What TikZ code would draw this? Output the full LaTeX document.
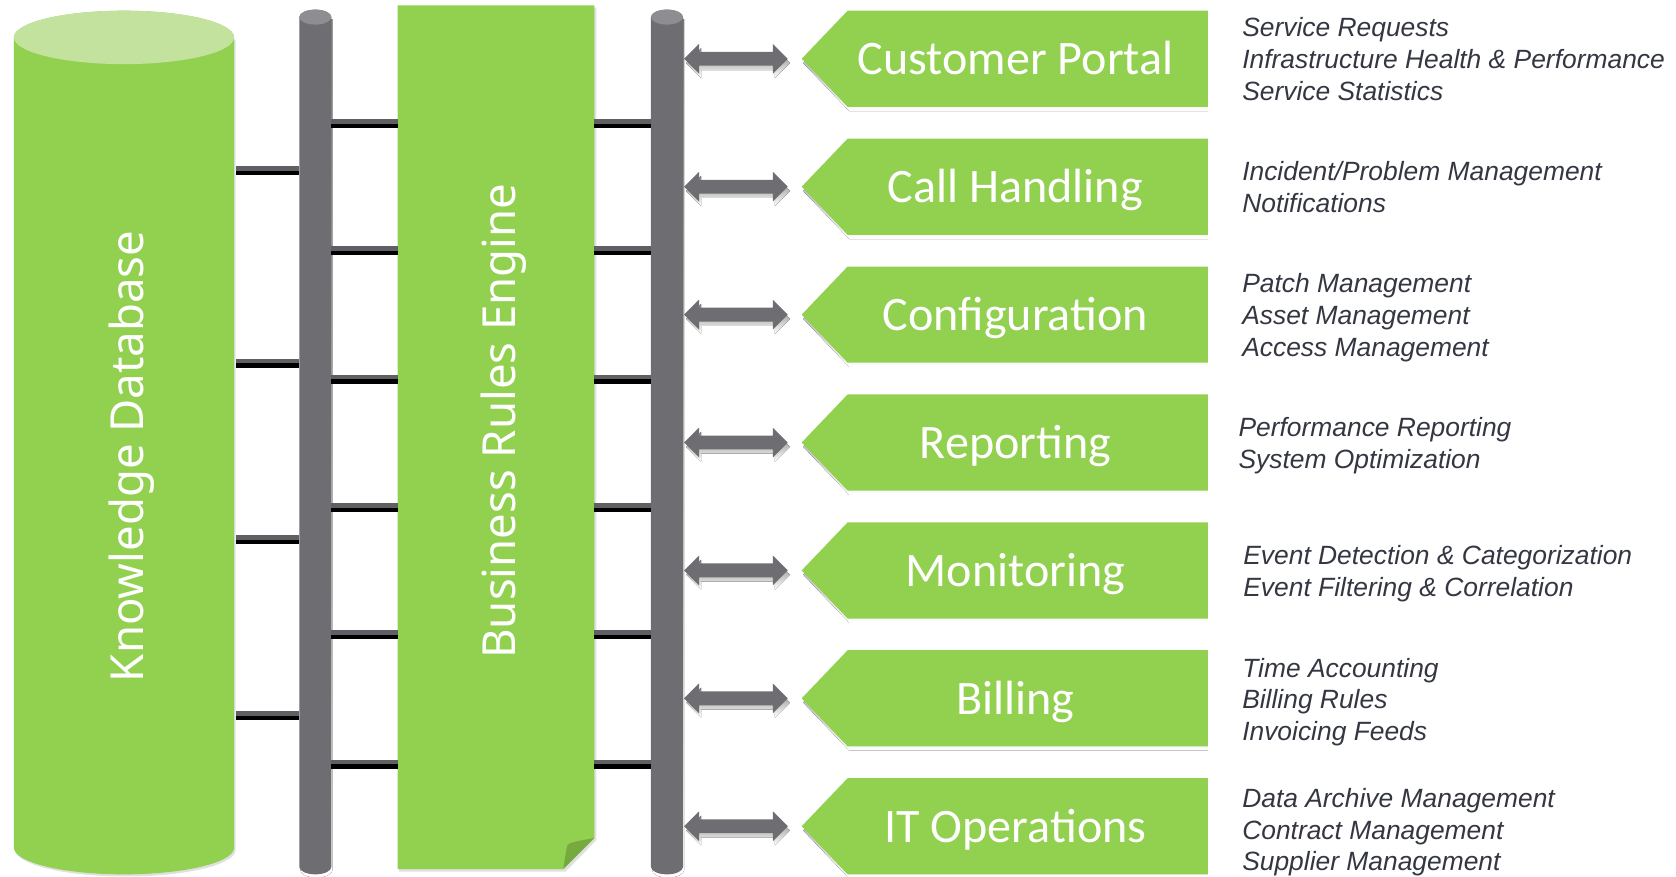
\documentclass[tikz,border=0pt]{standalone}
\usepackage{fontspec}
\newfontfamily\boxfont{Carlito}
\newfontfamily\titlefont{Noto Sans}
\newfontfamily\descfont{Liberation Sans}
\definecolor{lgreen}{RGB}{146,208,80}
\definecolor{topgreen}{RGB}{195,226,158}
\definecolor{foldgreen}{RGB}{118,170,62}
\definecolor{pillarcol}{RGB}{109,109,114}
\definecolor{pillartop}{RGB}{142,142,146}
\definecolor{shade}{RGB}{166,166,166}
\definecolor{bandcol}{RGB}{95,95,100}
\definecolor{desccol}{RGB}{52,55,66}
\begin{document}
\begin{tikzpicture}[x=1pt,y=1pt,
  boxlabel/.style={text=white, font=\boxfont\fontsize{45}{50}\selectfont, anchor=base, inner sep=0pt},
  desctext/.style={text=desccol, font=\descfont\itshape\fontsize{24.7}{30}\selectfont, anchor=base west, inner sep=0pt},
  vtitle/.style={text=white, font=\titlefont\fontsize{42.6}{48}\selectfont, rotate=90, anchor=base, inner sep=0pt},
  bandtop/.style={bandcol, line width=4.5pt},
  bandbot/.style={black, line width=4pt},
  softshade/.style={black!12},
]
\useasboundingbox (0,0) rectangle (1568,-820);

% ---------- Knowledge Database cylinder ----------
\fill[softshade] (14.5,-37) -- (14.5,-795) arc[start angle=180,end angle=360,x radius=103pt,y radius=25pt] -- (220.5,-37) -- cycle;
\fill[lgreen] (13,-35) -- (13,-793) arc[start angle=180,end angle=360,x radius=103pt,y radius=25pt] -- (219,-35) arc[start angle=0,end angle=180,x radius=103pt,y radius=25pt] -- cycle;
\fill[topgreen] (116,-35) ellipse[x radius=103pt,y radius=25pt];
\node[vtitle] (kdb) at (134,-427) {Knowledge Database};

% ---------- Pillars ----------
\foreach \px/\nm in {295/pl, 624/pr} {
  \fill[shade] (\px-15+1,-18) -- (\px-15+1,-814) arc[start angle=180,end angle=360,x radius=15pt,y radius=7pt] -- (\px+15+1,-18) -- cycle;
  \fill[pillarcol] (\px-15,-16) -- (\px-15,-811) arc[start angle=180,end angle=360,x radius=15pt,y radius=7pt] -- (\px+15,-16) arc[start angle=0,end angle=180,x radius=15pt,y radius=7pt] -- cycle;
  \fill[pillartop] (\px,-16) ellipse[x radius=15pt,y radius=7pt];
  \coordinate (\nm) at (\px,-16);
}

% ---------- Business Rules Engine ----------
\fill[softshade] (373.5,-7) -- (558,-7) -- (558,-786) -- (529,-815.5) -- (373.5,-815.5) -- cycle;
\fill[lgreen] (372,-5) -- (556,-5) -- (556,-784) -- (527,-813) -- (372,-813) -- cycle;
\fill[foldgreen] (556,-784) .. controls (540,-787) and (533,-788) .. (531,-790.5) .. controls (529,-798) and (528,-806) .. (527,-813) -- cycle;
\node[vtitle] (bre) at (482.5,-394) {Business Rules Engine};

% ---------- connectors: database -> left pillar ----------
\foreach \y [count=\i] in {160,340,505,670} {
  \coordinate (ka\i) at (221,-\y);
  \coordinate (kb\i) at (280,-\y);
  \draw[bandtop] ([yshift=2.2pt]ka\i) -- ([yshift=2.2pt]kb\i);
  \draw[bandbot] ([yshift=-2pt]ka\i) -- ([yshift=-2pt]kb\i);
}
% ---------- connectors: pillars <-> engine ----------
\foreach \y [count=\i] in {116,235,355,475,594,715} {
  \coordinate (ma\i) at (310,-\y);
  \coordinate (mb\i) at (372,-\y);
  \coordinate (ra\i) at (556,-\y);
  \coordinate (rb\i) at (609,-\y);
  \draw[bandtop] ([yshift=2.2pt]ma\i) -- ([yshift=2.2pt]mb\i);
  \draw[bandbot] ([yshift=-2pt]ma\i) -- ([yshift=-2pt]mb\i);
  \draw[bandtop] ([yshift=2.2pt]ra\i) -- ([yshift=2.2pt]rb\i);
  \draw[bandbot] ([yshift=-2pt]ra\i) -- ([yshift=-2pt]rb\i);
}

% ---------- modules: arrows + pentagons ----------
\foreach \c/\nm/\lab in {55/cp/Customer Portal, 174.67/ch/Call Handling, 294.33/cf/Configuration, 414/rp/Reporting, 533.67/mo/Monitoring, 653.33/bi/Billing, 773/it/IT Operations} {
  \begin{scope}[shift={(0,-\c)}]
    \fill[shade, shift={(2,-4)}] (640,0) -- (654,14) -- (654,6.5) -- (723,6.5) -- (723,14) -- (737,0) -- (723,-14) -- (723,-6.5) -- (654,-6.5) -- (654,-14) -- cycle;
    \fill[pillarcol] (640,0) -- (654,14) -- (654,6.5) -- (723,6.5) -- (723,14) -- (737,0) -- (723,-14) -- (723,-6.5) -- (654,-6.5) -- (654,-14) -- cycle;
    \fill[shade] (751.5,-4) -- (794.5,41) -- (1130,41) -- (1130,-49) -- (794.5,-49) -- cycle;
    \fill[lgreen] (750,0) -- (793,45) -- (1130,45) -- (1130,-45) -- (793,-45) -- cycle;
    \node[boxlabel] (\nm) at (950,-15) {\lab};
  \end{scope}
}

% ---------- descriptions ----------
\node[desctext] (d11) at (1162,-34) {Service Requests};
\node[desctext] (d12) at (1162,-64) {Infrastructure Health \& Performance};
\node[desctext] (d13) at (1162,-94) {Service Statistics};
\node[desctext] (d21) at (1162,-169) {Incident/Problem Management};
\node[desctext] (d22) at (1162,-199) {Notifications};
\node[desctext] (d31) at (1162,-273.5) {Patch Management};
\node[desctext] (d32) at (1162,-303.5) {Asset Management};
\node[desctext] (d33) at (1162,-333.5) {Access Management};
\node[desctext] (d41) at (1158.5,-408) {Performance Reporting};
\node[desctext] (d42) at (1158.5,-438) {System Optimization};
\node[desctext] (d51) at (1163,-528.4) {Event Detection \& Categorization};
\node[desctext] (d52) at (1163,-557.7) {Event Filtering \& Correlation};
\node[desctext] (d61) at (1162,-633.5) {Time Accounting};
\node[desctext] (d62) at (1162,-663) {Billing Rules};
\node[desctext] (d63) at (1162,-693) {Invoicing Feeds};
\node[desctext] (d71) at (1162,-755) {Data Archive Management};
\node[desctext] (d72) at (1162,-785) {Contract Management};
\node[desctext] (d73) at (1162,-814) {Supplier Management};
\end{tikzpicture}
\end{document}
